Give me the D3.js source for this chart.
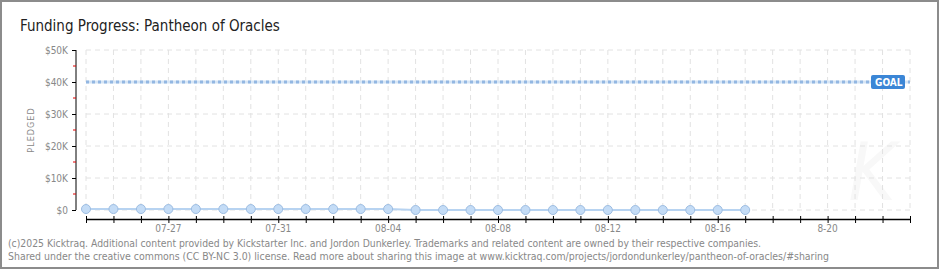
<!DOCTYPE html>
<html>
<head>
<meta charset="utf-8">
<script src="https://cdn.jsdelivr.net/npm/d3@7"></script>
<style>
  body { margin: 0; background: #fff; }
  svg { display: block; }
  text { font-family: "DejaVu Sans Condensed", "DejaVu Sans", sans-serif; }
</style>
</head>
<body>
<div id="chart"></div>
<script>
const dates = ["2025-07-24", "2025-07-25", "2025-07-26", "2025-07-27", "2025-07-28", "2025-07-29",
  "2025-07-30", "2025-07-31", "2025-08-01", "2025-08-02", "2025-08-03", "2025-08-04",
  "2025-08-05", "2025-08-06", "2025-08-07", "2025-08-08", "2025-08-09", "2025-08-10",
  "2025-08-11", "2025-08-12", "2025-08-13", "2025-08-14", "2025-08-15", "2025-08-16", "2025-08-17"];
const pledged = [300, 300, 300, 300, 300, 300, 300, 300, 300, 300, 300, 300,
  0, 0, 0, 0, 0, 0, 0, 0, 0, 0, 0, 0, 0];
const goal = 40000;
const campaignStart = "2025-07-24", campaignEnd = "2025-08-23";
const labelDates = ["2025-07-27", "2025-07-31", "2025-08-04", "2025-08-08", "2025-08-12", "2025-08-16", "2025-08-20"];
const labelTexts = ["07-27", "07-31", "08-04", "08-08", "08-12", "08-16", "8-20"];
const yTicks = [0, 10000, 20000, 30000, 40000, 50000];
const yLabels = ["$0", "$10K", "$20K", "$30K", "$40K", "$50K"];

let width = 940, height = 270,
  margin = ({ top: 50, right: 30, bottom: 60, left: 86 });

const parse = d3.utcParse("%Y-%m-%d");
const data = dates.map((d, i) => ({ date: parse(d), value: pledged[i] }));

let x = d3.scaleUtc()
  .domain([parse(campaignStart), parse(campaignEnd)])
  .range([margin.left, width - margin.right]);

let y = d3.scaleLinear()
  .domain([0, 50000])
  .range([height - margin.bottom, margin.top]);

const svg = d3.select("#chart")
  .append("svg")
  .attr("width", width)
  .attr("height", height)
  .attr("viewBox", [0, 0, width, height]);

// frame
svg.append("rect")
  .attr("x", 1).attr("y", 1)
  .attr("width", width - 3).attr("height", height - 3)
  .attr("fill", "#fff")
  .attr("stroke", "#8c8c8c")
  .attr("stroke-width", 2);

// watermark
svg.append("text")
  .attr("x", 872).attr("y", 200)
  .attr("text-anchor", "middle")
  .attr("font-family", "DejaVu Serif")
  .attr("font-style", "italic")
  .attr("font-size", 80)
  .attr("fill", "#f8f8f8")
  .text("K");

svg.append("text")
  .attr("x", 20).attr("y", 31)
  .attr("font-size", 15)
  .attr("fill", "#222")
  .text("Funding Progress: Pantheon of Oracles");

const days = d3.utcDay.range(parse(campaignStart), d3.utcDay.offset(parse(campaignEnd), 1));

// grid
svg.append("g")
  .attr("stroke", "#e2e2e2")
  .attr("stroke-dasharray", "5,4")
  .call(g => g.selectAll("line.v")
    .data(days)
    .join("line")
    .attr("class", "v")
    .attr("x1", d => x(d)).attr("x2", d => x(d))
    .attr("y1", y(50000)).attr("y2", y(0)))
  .call(g => g.selectAll("line.h")
    .data(yTicks)
    .join("line")
    .attr("class", "h")
    .attr("x1", margin.left).attr("x2", width - margin.right)
    .attr("y1", d => y(d)).attr("y2", d => y(d)));

// y axis
let yAxis = g => g
  .attr("transform", `translate(76,0)`)
  .call(d3.axisLeft(y).tickValues(yTicks).tickSize(4).tickFormat((d, i) => yLabels[i]))
  .call(g => g.select(".domain").attr("stroke", "#000").attr("d", `M0,${y(50000)}V${y(0)}`))
  .call(g => g.selectAll(".tick line").attr("stroke", "#000"))
  .call(g => g.selectAll(".tick text").attr("fill", "#888").attr("font-size", 10)
    .attr("font-family", "DejaVu Sans Condensed").attr("x", -8));

svg.append("g").call(yAxis);

svg.append("g")
  .selectAll("line")
  .data([5000, 15000, 25000, 35000, 45000])
  .join("line")
  .attr("x1", 73).attr("x2", 76)
  .attr("y1", d => y(d)).attr("y2", d => y(d))
  .attr("stroke", "#e00000");

svg.append("text")
  .attr("transform", `translate(34,${(y(0) + y(50000)) / 2}) rotate(-90)`)
  .attr("text-anchor", "middle")
  .attr("font-size", 9)
  .attr("letter-spacing", 1)
  .attr("fill", "#888")
  .text("PLEDGED");

// x axis
let xAxis = g => g
  .attr("transform", `translate(0,219)`)
  .call(d3.axisBottom(x).tickValues(days).tickSize(4).tickSizeOuter(0).tickFormat(""))
  .call(g => g.select(".domain").attr("stroke", "#000").attr("stroke-width", 1.5))
  .call(g => g.selectAll(".tick line").attr("stroke", "#000").attr("y1", -3).attr("y2", 4));

svg.append("g").call(xAxis);

svg.append("g")
  .selectAll("text")
  .data(labelDates)
  .join("text")
  .attr("x", d => x(parse(d)))
  .attr("y", 232)
  .attr("text-anchor", "middle")
  .attr("font-size", 10)
  .attr("fill", "#888")
  .text((d, i) => labelTexts[i]);

// goal line
svg.append("line")
  .attr("x1", margin.left).attr("x2", width - margin.right)
  .attr("y1", y(goal)).attr("y2", y(goal))
  .attr("stroke", "#d6e5f5").attr("stroke-width", 3);
svg.append("line")
  .attr("x1", margin.left).attr("x2", width - margin.right)
  .attr("y1", y(goal)).attr("y2", y(goal))
  .attr("stroke", "#93b7e2").attr("stroke-width", 3)
  .attr("stroke-dasharray", "3,3");

const goalG = svg.append("g")
  .attr("transform", `translate(871,${y(goal) - 7})`);
goalG.append("rect")
  .attr("width", 34).attr("height", 14).attr("rx", 2)
  .attr("fill", "#3b86d6");
goalG.append("text")
  .attr("x", 4).attr("y", 11)
  .attr("font-size", 10)
  .attr("font-weight", "bold")
  .attr("fill", "#fff")
  .text("GOAL");

// pledged line and points
svg.append("path")
  .datum(data)
  .attr("fill", "none")
  .attr("stroke", "#b7d3f1")
  .attr("stroke-width", 2)
  .attr("d", d3.line().x(d => x(d.date)).y(d => y(d.value)));

svg.append("g")
  .selectAll("circle")
  .data(data)
  .join("circle")
  .attr("cx", d => x(d.date))
  .attr("cy", d => y(d.value))
  .attr("r", 4.5)
  .attr("fill", "#c4dcf6")
  .attr("stroke", "#9dbde2")
  .attr("stroke-width", 1);

// footer
const footer = ["(c)2025 Kicktraq. Additional content provided by Kickstarter Inc. and Jordon Dunkerley. Trademarks and related content are owned by their respective companies.",
  "Shared under the creative commons (CC BY-NC 3.0) license. Read more about sharing this image at www.kicktraq.com/projects/jordondunkerley/pantheon-of-oracles/#sharing"];
const footerWidths = [753, 821];

svg.append("g")
  .selectAll("text")
  .data(footer)
  .join("text")
  .attr("x", 8)
  .attr("y", (d, i) => 247 + i * 13)
  .attr("font-size", 10)
  .attr("fill", "#888")
  .attr("textLength", (d, i) => footerWidths[i])
  .attr("lengthAdjust", "spacingAndGlyphs")
  .text(d => d);
</script>
</body>
</html>
